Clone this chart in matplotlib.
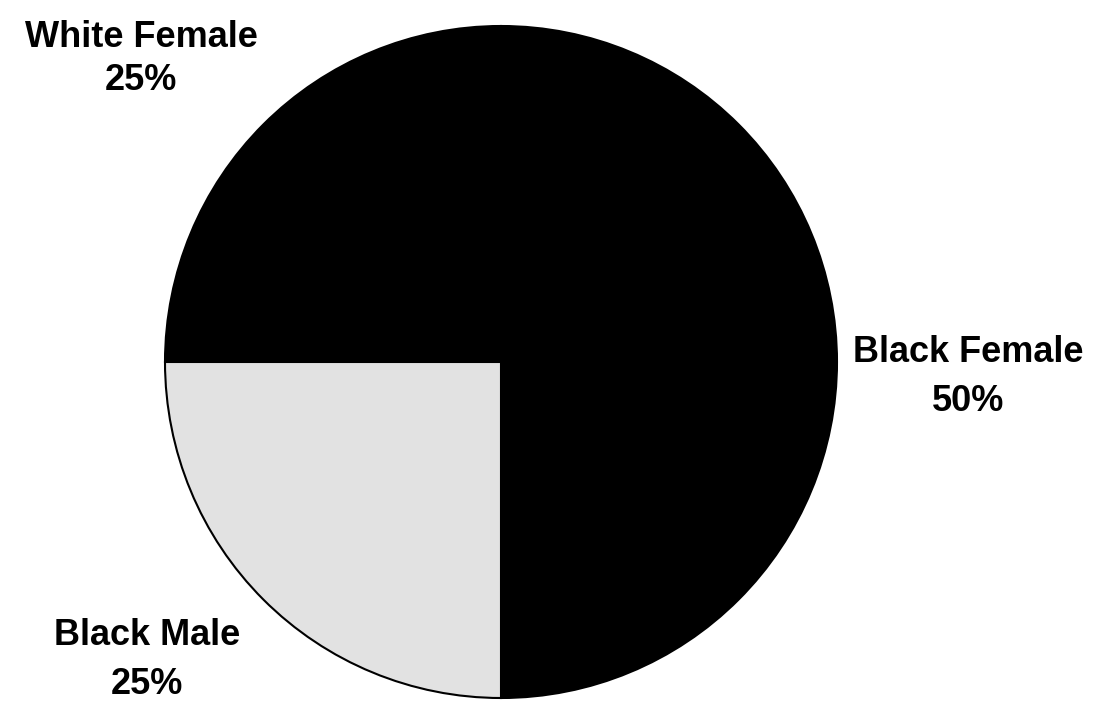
import matplotlib
matplotlib.use("Agg")
import matplotlib.pyplot as plt

# Dados do gráfico
categorias = ['Black Female', 'White Female', 'Black Male']
percentuais = [50, 25, 25]
cores = ['#000000', '#000000', '#e2e2e2']

plt.rcParams['font.family'] = ['Liberation Sans', 'DejaVu Sans']

fig = plt.figure(figsize=(11.03, 7.07), dpi=100)
ax = fig.add_axes([0, 0, 1, 1])

# Pizza (centro e raio em pixels)
wedges, _ = ax.pie(percentuais, colors=cores, startangle=-90, counterclock=True,
                   center=(501, 345), radius=336, frame=True,
                   wedgeprops=dict(edgecolor='black', linewidth=1.5))
ax.set_xlim(0, 1103)
ax.set_ylim(0, 707)
ax.set_aspect('equal')
ax.axis('off')

# Rótulos (centro do bloco de texto, espaçamento por rótulo)
posicoes = {'Black Female': (968, 330, 1.5), 'White Female': (141, 648, 1.3),
            'Black Male': (147, 47, 1.55)}
for cat, p in zip(categorias, percentuais):
    x, y, esp = posicoes[cat]
    ax.text(x, y, f'{cat}\n{p}%', ha='center', va='center', fontsize=26,
            fontweight='bold', linespacing=esp)

fig.savefig('out.png', dpi=100)
